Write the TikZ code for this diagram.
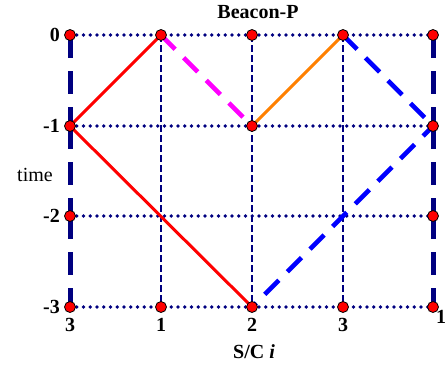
\documentclass[tikz,border=0pt]{standalone}
\usepackage{fontspec}
\setmainfont{Liberation Serif}
\definecolor{gridnavy}{RGB}{0,0,128}
\definecolor{pathmag}{RGB}{255,0,255}
\definecolor{pathorange}{RGB}{255,128,0}
\definecolor{pathblue}{RGB}{0,0,255}
\begin{document}
\begin{tikzpicture}[x=1pt,y=-1pt,
  dotline/.style={draw=gridnavy,line width=3.7pt,line cap=round,dash pattern=on 0pt off 6.75pt},
  thindash/.style={draw=gridnavy,line width=2.2pt,dash pattern=on 6.5pt off 3.5pt},
  thickdash/.style={draw=gridnavy,line width=5pt,dash pattern=on 23pt off 13pt},
  diagdash/.style={line width=4.6pt,dash pattern=on 20pt off 12pt},
  solidline/.style={line width=3pt},
  reddot/.style={circle,fill=red,draw=black,line width=0.8pt,minimum size=11pt,inner sep=0pt},
  lbl/.style={font=\fontsize{20}{22}\selectfont\bfseries,inner sep=0pt}]
\useasboundingbox (0,0) rectangle (448,368);
% grid coordinates
\foreach \c/\x in {0/70,1/161,2/252,3/343,4/433}{
  \foreach \r/\y in {0/35,1/126,2/216,3/307}{
    \coordinate (n\c\r) at (\x,\y);
  }
}
% horizontal dotted lines
\foreach \r in {0,1,2,3}{ \draw[dotline] (n0\r) -- (n4\r); }
% inner vertical dashed lines
\foreach \c in {1,2,3}{ \draw[thindash] (n\c0) -- (n\c3); }
% outer thick dashed lines
\foreach \c in {0,4}{
  \draw[thickdash] (n\c0) -- (n\c1);
  \draw[thickdash] (n\c1) -- (n\c2);
  \draw[thickdash] (n\c2) -- (n\c3);
}
% colored paths
\draw[solidline,red] (n10) -- (n01) -- (n23);
\draw[diagdash,pathmag] (n10) -- (n21);
\draw[solidline,pathorange] (n21) -- (n30);
\draw[diagdash,pathblue] (n30) -- (n41);
\draw[diagdash,pathblue,dash phase=6pt] (n41) -- (n23);
% dots
\foreach \p in {00,10,20,30,40,01,21,41,02,42,03,13,23,33,43}{
  \node[reddot] (d\p) at (n\p) {};
}
% labels
\node[lbl,anchor=east] (y0) at (60,35) {0};
\node[lbl,anchor=east] (y1) at (60,126) {-1};
\node[lbl,anchor=east] (y2) at (60,216) {-2};
\node[lbl,anchor=east] (y3) at (60,307) {-3};
\node[lbl] (x0) at (70,325) {3};
\node[lbl] (x1) at (161,325) {1};
\node[lbl] (x2) at (252,325) {2};
\node[lbl] (x3) at (343,325) {3};
\node[lbl] (x4) at (441,317) {1};
\node[font=\fontsize{20}{22}\selectfont,inner sep=0pt] (time) at (35,175) {time};
\node[lbl] (title) at (258,12) {Beacon-P};
\node[lbl] (xlab) at (254,352) {S/C \textit{i}};
\end{tikzpicture}
\end{document}
